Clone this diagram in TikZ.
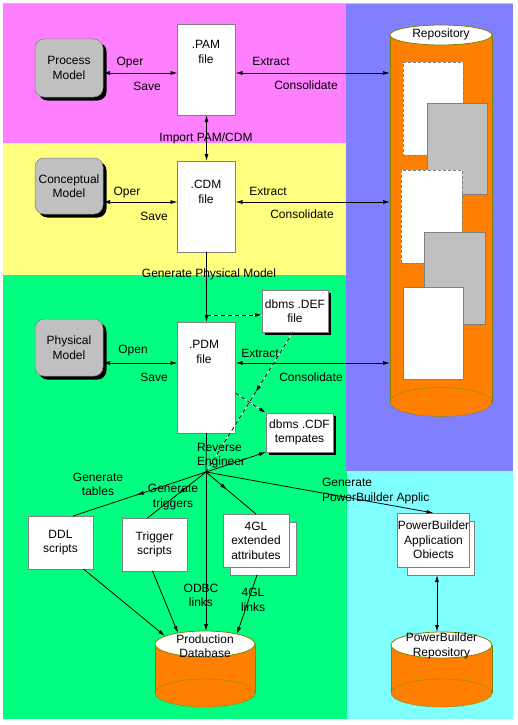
\documentclass[tikz,border=0pt]{standalone}
\usepackage{fontspec}
\setmainfont{Liberation Sans}
\usetikzlibrary{arrows.meta,calc,decorations.markings,shadows}
\definecolor{bgmag}{RGB}{255,128,255}
\definecolor{bgyel}{RGB}{255,255,128}
\definecolor{bggrn}{RGB}{0,255,128}
\definecolor{bgblu}{RGB}{128,128,255}
\definecolor{bgcya}{RGB}{128,255,255}
\definecolor{cylor}{RGB}{255,128,0}
\definecolor{cylol}{RGB}{128,128,0}
\definecolor{boxgr}{RGB}{192,192,192}
\definecolor{edgegr}{RGB}{128,128,128}
\begin{document}
\begin{tikzpicture}[x=1pt,y=-1pt,>={Latex[length=7pt,width=4pt]},
 every node/.style={font=\fontsize{12}{14.5}\selectfont, align=center, inner sep=0pt, outer sep=0pt},
 ln/.style={line width=0.8pt, black},
 filebox/.style={draw=edgegr, fill=white, line width=0.8pt},
 modelbox/.style={draw=edgegr, fill=boxgr, rounded corners=9pt, line width=0.5pt,
   general shadow={fill=black, shadow xshift=3.5pt, shadow yshift=-3.5pt}},
 shbox/.style={draw=edgegr, fill=white, line width=0.8pt,
   general shadow={fill=black, shadow xshift=3pt, shadow yshift=-3pt}},
 repbox/.style={draw=edgegr, fill=white, line width=0.8pt, dash pattern=on 3pt off 2pt},
 repgray/.style={draw=edgegr, fill=boxgr, line width=0.8pt},
 cylbody/.style={fill=cylor, inner sep=0pt},
 cyledge/.style={draw=cylol, line width=0.8pt},
 midarrow/.style={postaction={decorate}, decoration={markings, mark=at position #1 with {\arrow{>}}}},
 wline/.style={white, line width=0.8pt},
 bdash/.style={black, line width=0.8pt, dash pattern=on 4pt off 3pt}
]
\useasboundingbox (0,0) rectangle (518,725);
% backgrounds
\fill[white] (0,0) rectangle (518,725);
\fill[bgmag] (3,3) rectangle (346,143);
\fill[bgyel] (3,143) rectangle (346,275);
\fill[bggrn] (3,275) rectangle (347,719);
\fill[bgblu] (346,3) rectangle (513,471);
\fill[bgcya] (347,471) rectangle (513,719);
\draw[boxgr, line width=0.8pt] (3,3) -- (513,3);

% Repository cylinder
\node[cylbody, minimum width=102pt, minimum height=367pt] (repo) at (441,218.5) {};
\fill[cylor] (441,402) ellipse [x radius=51, y radius=14.5];
\draw[cyledge, densely dotted] (441,402) ellipse [x radius=51, y radius=14.5];
\draw[cyledge] (repo.north west) -- (repo.south west) (repo.north east) -- (repo.south east);
\filldraw[fill=white, cyledge] (441,35) ellipse [x radius=51, y radius=10];
\node (repot) at (441,34) {Repository};
\node[repbox, minimum width=60pt, minimum height=93pt] (rw1) at (433,108.5) {};
\node[repgray, minimum width=60pt, minimum height=91pt] (rg1) at (457,148.5) {};
\node[repbox, minimum width=61pt, minimum height=93pt] (rw2) at (431.5,216.5) {};
\node[repgray, minimum width=61pt, minimum height=92pt] (rg2) at (454.5,278) {};
\node[filebox, minimum width=60pt, minimum height=92pt] (rw3) at (433,333) {};

% Production Database cylinder
\node[cylbody, minimum width=100pt, minimum height=49pt] (pdb) at (205,668.5) {};
\fill[cylor] (205,693) ellipse [x radius=50, y radius=14];
\draw[cyledge, densely dotted] (205,693) ellipse [x radius=50, y radius=14];
\draw[cyledge] (pdb.north west) -- (pdb.south west) (pdb.north east) -- (pdb.south east);
\filldraw[fill=white, cyledge] (205,644) ellipse [x radius=50, y radius=13];
\node (pdbt) at (205,646) {Production\\Database};
\coordinate (pdbA) at (165,636);
\coordinate (pdbB) at (178,633);
\coordinate (pdbO) at (206,631);
\coordinate (pdbD) at (237,634);

% PowerBuilder Repository cylinder
\node[cylbody, minimum width=101pt, minimum height=48pt] (pbr) at (441.5,669) {};
\fill[cylor] (441.5,693) ellipse [x radius=50.5, y radius=14];
\draw[cyledge, densely dotted] (441.5,693) ellipse [x radius=50.5, y radius=14];
\draw[cyledge] (pbr.north west) -- (pbr.south west) (pbr.north east) -- (pbr.south east);
\filldraw[fill=white, cyledge] (441.5,645) ellipse [x radius=50.5, y radius=13];
\node (pbrt) at (441.5,646) {PowerBuilder\\Repository};
\coordinate (pbrT) at (437,632);

% model boxes
\node[modelbox, minimum width=68pt, minimum height=58pt] (pm) at (69,68) {Process\\Model};
\node[modelbox, minimum width=68pt, minimum height=56pt] (cm) at (69,186) {Conceptual\\Model};
\node[modelbox, minimum width=68pt, minimum height=57pt] (phm) at (69,347.5) {Physical\\Model};

% file boxes
\node[filebox, minimum width=58pt, minimum height=91pt] (pam) at (206.5,69.5) {};
\node (pamt) at (206,52) {.PAM\\file};
\node[filebox, minimum width=58pt, minimum height=91pt] (cdm) at (206.5,206.5) {};
\node (cdmt) at (206,192) {.CDM\\file};
\node[filebox, minimum width=58pt, minimum height=111pt] (pdm) at (206.5,377.5) {};
\node (pdmt) at (204,352) {.PDM\\file};

\node[shbox, minimum width=66pt, minimum height=42pt] (def) at (295,311) {dbms .DEF\\file};
\node[shbox, minimum width=67pt, minimum height=39pt] (cdf) at (299.5,432.5) {dbms .CDF\\tempates};

\node[filebox, minimum width=65pt, minimum height=53pt] (ddl) at (60.5,542.5) {DDL\\scripts};
\node[filebox, minimum width=65pt, minimum height=53pt] (trg) at (154.5,544.5) {Trigger\\scripts};
\node[filebox, minimum width=66pt, minimum height=53pt] (gl4b) at (263,548.5) {};
\node[filebox, minimum width=66pt, minimum height=53pt] (gl4) at (256,540.5) {4GL\\extended\\attributes};
\node[filebox, minimum width=67pt, minimum height=54pt] (pbab) at (440.5,548) {};
\node[filebox, minimum width=67pt, minimum height=54pt] (pba) at (433.5,540) {PowerBuilder\\Application\\Obiects};

% connectors: model <-> files
\draw[ln, <->] (pm.east |- 0,73) -- (pam.west |- 0,73);
\draw[ln, <->] (cm.east |- 0,202) -- (cdm.west |- 0,202);
\draw[ln, <->] (phm.east |- 0,363) -- (pdm.west |- 0,363);
% files <-> repository
\draw[ln, <->] (pam.east |- 0,73) -- (repo.west |- 0,73);
\draw[ln, <->] (cdm.east |- 0,202) -- (repo.west |- 0,202);
\draw[ln, <->] (pdm.east |- 0,363) -- (repo.west |- 0,363);
% vertical
\draw[ln, <->] (pam.south) -- (cdm.north);
\draw[ln, ->] (cdm.south) -- (pdm.north);
\coordinate (gpm) at (206.5,315);
\draw[wline] (gpm) -- (def.west |- 0,315);
\draw[bdash, ->] (gpm) -- (def.west |- 0,315);

% reverse engineer hub
\coordinate (hub) at (206,472);
\coordinate (defb) at (293,332);
\draw[wline] (defb) -- (hub);
\draw[bdash, midarrow=0.43] (defb) -- (hub);
\draw[wline] (pdm.east |- 0,393) -- (cdf.north west);
\draw[bdash, ->] (pdm.east |- 0,393) -- (cdf.north west);
\draw[ln] (pdm.south) -- (hub);
\draw[ln, ->] (hub) -- (cdf.south west);
\draw[ln, midarrow=0.52] (hub) -- ($(ddl.north)+(12.5,0)$);
\draw[ln, midarrow=0.48] (hub) -- ($(trg.north)+(-7,0)$);
\draw[ln, midarrow=0.42] (hub) -- (gl4.north);
\draw[ln, ->] (hub) -- (pba.north);
\draw[ln, ->] (hub) -- (pdbO);
\draw[ln, ->] ($(ddl.south)+(23,0)$) -- (pdbA);
\draw[ln, ->] ($(trg.south)+(-2,0)$) -- (pdbB);
\draw[ln, ->] ($(gl4b.south)+(-6,0)$) -- (pdbD);
\draw[ln, <->] ($(pbab.south)+(-3.5,0)$) -- (pbrT);

% labels
\node (l1) at (130,63) {Oper};
\node (l2) at (147,86) {Save};
\node (l3) at (271,61) {Extract};
\node (l4) at (306,85) {Consolidate};
\node (l5) at (206,138) {Import PAM/CDM};
\node (l6) at (127,193) {Oper};
\node (l7) at (154,216) {Save};
\node (l8) at (268,191) {Extract};
\node (l9) at (302,214) {Consolidate};
\node (l10) at (209,274) {Generate Physical Model};
\node (l11) at (133,351) {Open};
\node (l12) at (154,377) {Save};
\node (l13) at (260,353) {Extract};
\node (l14) at (311,377) {Consolidate};
\node[anchor=west, align=left] (l15) at (197,455.5) {Reverse\\Engineer};
\node (l16) at (98,484.5) {Generate\\tables};
\node (l17) at (173,497) {Generate\\triggers};
\node (l18) at (201,595.5) {ODBC\\links};
\node (l19) at (253,600) {4GL\\links};
\node[anchor=west, align=left] (l20) at (322,491) {Generate\\PowerBuilder Applic};
\end{tikzpicture}
\end{document}
